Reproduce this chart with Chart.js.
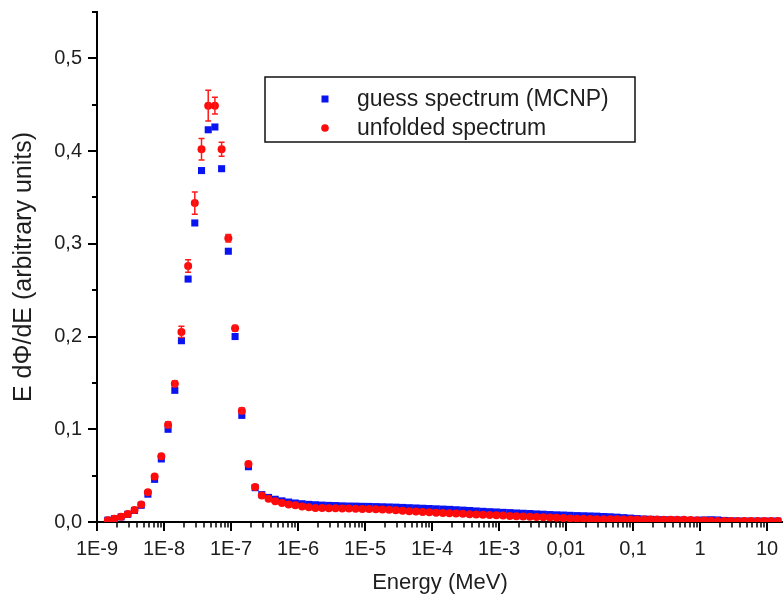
<!DOCTYPE html>
<html>
<head>
<meta charset="utf-8">
<script src="https://cdn.jsdelivr.net/npm/chart.js@4.4.1/dist/chart.umd.min.js"></script>
<style>
  html, body { margin: 0; padding: 0; background: #fff; }
  #wrap { width: 783px; height: 605px; position: relative; }
</style>
</head>
<body>
<div id="wrap"><canvas id="c"></canvas></div>
<script>
// Energy bin positions (MeV), 10 per decade
const energies = [
  1.45e-9, 1.82e-9, 2.29e-9, 2.88e-9, 3.63e-9, 4.57e-9, 5.75e-9, 7.24e-9, 9.12e-9,
  1.15e-8, 1.45e-8, 1.82e-8, 2.29e-8, 2.88e-8, 3.63e-8, 4.57e-8, 5.75e-8, 7.24e-8, 9.12e-8,
  1.15e-7, 1.45e-7, 1.82e-7, 2.29e-7, 2.88e-7, 3.63e-7, 4.57e-7, 5.75e-7, 7.24e-7, 9.12e-7,
  1.15e-6, 1.45e-6, 1.82e-6, 2.29e-6, 2.88e-6, 3.63e-6, 4.57e-6, 5.75e-6, 7.24e-6, 9.12e-6,
  1.15e-5, 1.45e-5, 1.82e-5, 2.29e-5, 2.88e-5, 3.63e-5, 4.57e-5, 5.75e-5, 7.24e-5, 9.12e-5,
  1.15e-4, 1.45e-4, 1.82e-4, 2.29e-4, 2.88e-4, 3.63e-4, 4.57e-4, 5.75e-4, 7.24e-4, 9.12e-4,
  1.15e-3, 1.45e-3, 1.82e-3, 2.29e-3, 2.88e-3, 3.63e-3, 4.57e-3, 5.75e-3, 7.24e-3, 9.12e-3,
  1.15e-2, 1.45e-2, 1.82e-2, 2.29e-2, 2.88e-2, 3.63e-2, 4.57e-2, 5.75e-2, 7.24e-2, 9.12e-2,
  1.15e-1, 1.45e-1, 1.82e-1, 2.29e-1, 2.88e-1, 3.63e-1, 4.57e-1, 5.75e-1, 7.24e-1, 9.12e-1,
  1.15, 1.45, 1.82, 2.29, 2.88, 3.63, 4.57, 5.75, 7.24, 9.12,
  11.5, 14.5
];

// guess spectrum (MCNP) - blue squares
const guessSpectrum = [
  0.0020, 0.0035, 0.0055, 0.0083, 0.0125, 0.0180, 0.0300, 0.0460, 0.0680,
  0.1000, 0.1420, 0.1955, 0.2620, 0.3225, 0.3790, 0.4230, 0.4260, 0.3810, 0.2920,
  0.2000, 0.1150, 0.0596, 0.0370, 0.0295, 0.0265, 0.0245, 0.0228, 0.0215, 0.0205,
  0.0197, 0.0190, 0.0186, 0.0182, 0.0179, 0.0177, 0.0174, 0.0172, 0.0171, 0.0169,
  0.0168, 0.0166, 0.0164, 0.0162, 0.0160, 0.0157, 0.0154, 0.0151, 0.0148, 0.0145,
  0.0142, 0.0139, 0.0136, 0.0132, 0.0128, 0.0124, 0.0119, 0.0115, 0.0111, 0.0108,
  0.0104, 0.0101, 0.0097, 0.0094, 0.0091, 0.0087, 0.0084, 0.0080, 0.0077, 0.0075,
  0.0072, 0.0069, 0.0067, 0.0065, 0.0063, 0.0059, 0.0056, 0.0052, 0.0047, 0.0042,
  0.0037, 0.0032, 0.0029, 0.0027, 0.0025, 0.0023, 0.0021, 0.0019, 0.0017, 0.0019,
  0.0022, 0.0024, 0.0022, 0.0017, 0.0013, 0.0011, 0.0010, 0.0010, 0.0010, 0.0010,
  0.0010, 0.0010
];

// unfolded spectrum - red circles
const unfoldedSpectrum = [
  0.0020, 0.0036, 0.0057, 0.0086, 0.0130, 0.0190, 0.0320, 0.0490, 0.0710,
  0.1050, 0.1490, 0.2050, 0.2760, 0.3440, 0.4020, 0.4490, 0.4490, 0.4020, 0.3060,
  0.2090, 0.1200, 0.0625, 0.0377, 0.0285, 0.0250, 0.0225, 0.0205, 0.0190, 0.0180,
  0.0168, 0.0158, 0.0152, 0.0150, 0.0148, 0.0147, 0.0146, 0.0145, 0.0143, 0.0141,
  0.0139, 0.0137, 0.0135, 0.0131, 0.0127, 0.0122, 0.0117, 0.0112, 0.0108, 0.0105,
  0.0101, 0.0098, 0.0094, 0.0091, 0.0088, 0.0084, 0.0081, 0.0078, 0.0075, 0.0072,
  0.0069, 0.0066, 0.0063, 0.0060, 0.0057, 0.0054, 0.0051, 0.0048, 0.0045, 0.0042,
  0.0039, 0.0036, 0.0034, 0.0032, 0.0031, 0.0030, 0.0029, 0.0029, 0.0028, 0.0028,
  0.0027, 0.0027, 0.0026, 0.0026, 0.0025, 0.0025, 0.0024, 0.0024, 0.0022, 0.0020,
  0.0016, 0.0013, 0.0011, 0.0010, 0.0010, 0.0010, 0.0010, 0.0010, 0.0010, 0.0010,
  0.0010, 0.0010
];

// error bars of unfolded spectrum
const unfoldedError = [
  0, 0, 0, 0, 0, 0, 0, 0, 0,
  0.003, 0.003, 0.006, 0.0067, 0.012, 0.0117, 0.0165, 0.009, 0.0075, 0.004,
  0.003, 0.003, 0, 0, 0, 0, 0, 0, 0, 0,
  0, 0, 0, 0, 0, 0, 0, 0, 0, 0,
  0, 0, 0, 0, 0, 0, 0, 0, 0, 0,
  0, 0, 0, 0, 0, 0, 0, 0, 0, 0,
  0, 0, 0, 0, 0, 0, 0, 0, 0, 0,
  0, 0, 0, 0, 0, 0, 0, 0, 0, 0,
  0, 0, 0, 0, 0, 0, 0, 0, 0, 0,
  0, 0, 0, 0, 0, 0, 0, 0, 0, 0,
  0, 0
];

const seriesNames = ['guess spectrum (MCNP)', 'unfolded spectrum'];

const xMajorTicks = [1e-9, 1e-8, 1e-7, 1e-6, 1e-5, 1e-4, 1e-3, 1e-2, 1e-1, 1, 10];
const xTickLabels = ['1E-9', '1E-8', '1E-7', '1E-6', '1E-5', '1E-4', '1E-3', '0,01', '0,1', '1', '10'];
const yMajorTicks = [0, 0.1, 0.2, 0.3, 0.4, 0.5];
const yTickLabels = ['0,0', '0,1', '0,2', '0,3', '0,4', '0,5'];
const yMinorTicks = [0.05, 0.15, 0.25, 0.35, 0.45, 0.55];

const FONT = "'Liberation Sans', Arial, sans-serif";
const TEXT = '#1e1e1e';

const guessPoints = energies.map((e, i) => ({ x: e, y: guessSpectrum[i] }));
const unfoldedPoints = energies.map((e, i) => ({ x: e, y: unfoldedSpectrum[i] }));

function sameVal(a, b) { return Math.abs(a - b) <= Math.abs(b) * 1e-6 + 1e-12; }

const errorBarPlugin = {
  id: 'errorBars',
  afterDatasetsDraw(chart) {
    const ctx = chart.ctx;
    const xs = chart.scales.x, ys = chart.scales.y;
    ctx.save();
    ctx.strokeStyle = '#ff1a1a';
    ctx.lineWidth = 1.5;
    energies.forEach((e, i) => {
      const err = unfoldedError[i];
      if (!err) return;
      const px = xs.getPixelForValue(e);
      const top = ys.getPixelForValue(unfoldedSpectrum[i] + err);
      const bot = ys.getPixelForValue(unfoldedSpectrum[i] - err);
      ctx.beginPath();
      ctx.moveTo(px, top); ctx.lineTo(px, bot);
      ctx.moveTo(px - 3, top); ctx.lineTo(px + 3, top);
      ctx.moveTo(px - 3, bot); ctx.lineTo(px + 3, bot);
      ctx.stroke();
    });
    ctx.restore();
  }
};

const tickMarkPlugin = {
  id: 'tickMarks',
  afterDraw(chart) {
    const ctx = chart.ctx;
    const xs = chart.scales.x, ys = chart.scales.y;
    const area = chart.chartArea;
    ctx.save();
    ctx.strokeStyle = '#000';
    xs.ticks.forEach(t => {
      const px = Math.round(xs.getPixelForValue(t.value));
      const major = xMajorTicks.some(v => sameVal(t.value, v));
      ctx.lineWidth = major ? 2 : 1.5;
      ctx.beginPath();
      ctx.moveTo(px, area.bottom);
      ctx.lineTo(px, area.bottom + (major ? 9 : 5.5));
      ctx.stroke();
    });
    ys.ticks.forEach(t => {
      const py = Math.round(ys.getPixelForValue(t.value));
      const major = yMajorTicks.some(v => sameVal(t.value, v));
      ctx.lineWidth = 2;
      ctx.beginPath();
      ctx.moveTo(area.left, py);
      ctx.lineTo(area.left - (major ? 9 : 5), py);
      ctx.stroke();
    });
    ctx.restore();
  }
};

const boxLegendPlugin = {
  id: 'boxLegend',
  afterDraw(chart) {
    const ctx = chart.ctx;
    const ds = chart.data.datasets;
    const box = { left: 265, top: 77, right: 635, bottom: 142 };
    ctx.save();
    ctx.strokeStyle = '#111';
    ctx.lineWidth = 1.5;
    ctx.strokeRect(box.left, box.top, box.right - box.left, box.bottom - box.top);
    const rows = [99, 128];
    ctx.font = '23px ' + FONT;
    ctx.textBaseline = 'middle';
    ctx.textAlign = 'left';
    ds.forEach((d, i) => {
      const cy = rows[i];
      const cx = 325;
      ctx.fillStyle = d.backgroundColor;
      if (d.pointStyle === 'rect') {
        ctx.fillRect(cx - 3.5, cy - 3.5, 7, 7);
      } else {
        ctx.beginPath();
        ctx.arc(cx, cy, 3.8, 0, Math.PI * 2);
        ctx.fill();
      }
      ctx.fillStyle = TEXT;
      ctx.fillText(d.label, 357, cy + 1);
    });
    ctx.restore();
  }
};

new Chart(document.getElementById('c'), {
  type: 'scatter',
  data: {
    datasets: [
      {
        label: seriesNames[0],
        data: guessPoints,
        pointStyle: 'rect',
        pointRadius: 5,
        pointHoverRadius: 5,
        backgroundColor: '#0a14f0',
        borderColor: '#0a14f0',
        borderWidth: 0,
        showLine: false,
        order: 1
      },
      {
        label: seriesNames[1],
        data: unfoldedPoints,
        pointStyle: 'circle',
        pointRadius: 4,
        pointHoverRadius: 4,
        backgroundColor: '#ff0a0a',
        borderColor: '#ff0a0a',
        borderWidth: 0,
        showLine: false,
        order: 0
      }
    ]
  },
  options: {
    responsive: true,
    maintainAspectRatio: false,
    animation: false,
    layout: { autoPadding: false, padding: { top: 12, right: 0, left: 0, bottom: 0 } },
    plugins: {
      legend: { display: false },
      tooltip: { enabled: false }
    },
    scales: {
      x: {
        type: 'logarithmic',
        bounds: 'data',
        min: 1e-9,
        max: 17.3,
        afterFit(scale) {
          scale.height = 83;
          scale.paddingLeft = 0;
          scale.paddingRight = 0;
        },
        afterBuildTicks(scale) {
          const ticks = [];
          xMajorTicks.forEach(base => {
            for (let m = 1; m <= 9; m++) {
              const v = m * base;
              if (v <= scale.max * 1.0000001) ticks.push({ value: v });
            }
          });
          scale.ticks = ticks;
        },
        grid: { display: true, drawOnChartArea: false, drawTicks: true, tickLength: 9, tickColor: 'rgba(0,0,0,0)' },
        border: { display: true, color: '#000', width: 2 },
        ticks: {
          autoSkip: false,
          maxRotation: 0,
          minRotation: 0,
          padding: 6,
          color: TEXT,
          font: { family: FONT, size: 20 },
          callback(value) {
            const idx = xMajorTicks.findIndex(v => sameVal(value, v));
            return idx >= 0 ? xTickLabels[idx] : '';
          }
        },
        title: {
          display: true,
          text: 'Energy (MeV)',
          color: TEXT,
          font: { family: FONT, size: 22 },
          padding: { top: 0, bottom: 9 }
        }
      },
      y: {
        type: 'linear',
        min: 0,
        max: 0.55,
        afterFit(scale) {
          scale.width = 97;
          scale.paddingTop = 0;
          scale.paddingBottom = 0;
        },
        afterBuildTicks(scale) {
          const vals = yMajorTicks.concat(yMinorTicks).sort((a, b) => a - b);
          scale.ticks = vals.map(v => ({ value: v }));
        },
        grid: { display: true, drawOnChartArea: false, drawTicks: true, tickLength: 9, tickColor: 'rgba(0,0,0,0)' },
        border: { display: true, color: '#000', width: 2 },
        ticks: {
          autoSkip: false,
          padding: 6,
          color: TEXT,
          font: { family: FONT, size: 20 },
          callback(value) {
            const idx = yMajorTicks.findIndex(v => sameVal(value, v));
            return idx >= 0 ? yTickLabels[idx] : '';
          }
        },
        title: {
          display: true,
          text: 'E dΦ/dE (arbitrary units)',
          color: TEXT,
          font: { family: FONT, size: 25 },
          padding: { top: 9, bottom: 0 }
        }
      }
    }
  },
  plugins: [errorBarPlugin, tickMarkPlugin, boxLegendPlugin]
});
</script>
</body>
</html>
